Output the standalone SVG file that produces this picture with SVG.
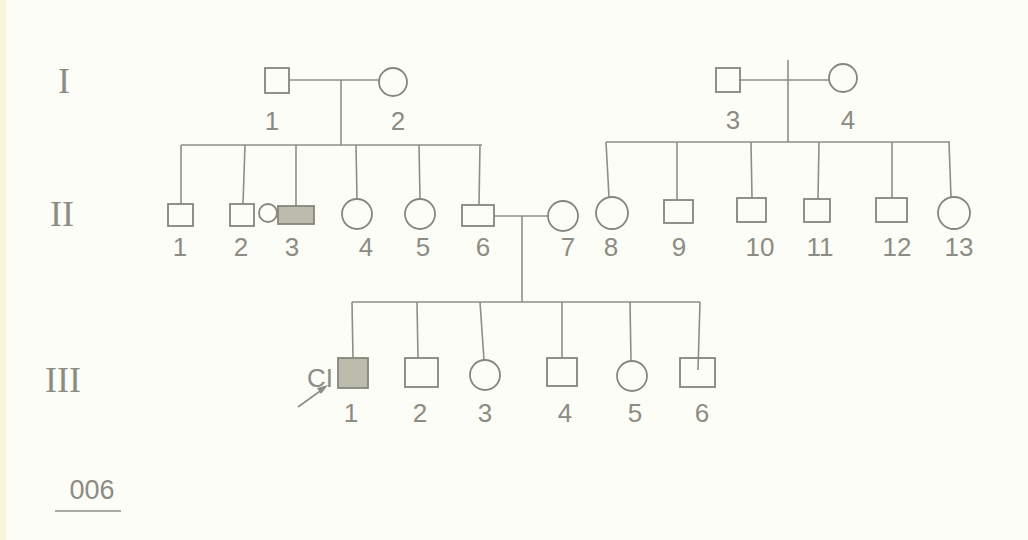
<svg xmlns="http://www.w3.org/2000/svg" width="1028" height="540" viewBox="0 0 1028 540">
<style>
.ln{stroke:#8e8e86;stroke-width:1.6;fill:none}
.sym{stroke:#86867e;stroke-width:1.8;fill:none}
.aff{stroke:#86867e;stroke-width:1.8;fill:#bcbcad}
.num{font-family:"Liberation Sans",Arial,sans-serif;font-size:26px;fill:#8c8c84;text-anchor:middle}
.gen{font-family:"Liberation Serif","Times New Roman",serif;font-size:36px;fill:#8c8c84;text-anchor:middle}
</style>
<rect x="0" y="0" width="1028" height="540" fill="#fdfdf7"/>
<rect x="0" y="0" width="6" height="540" fill="#f6f6dc"/>
<g id="generation-labels">
<text class="gen" x="64" y="93">I</text>
<text class="gen" x="62" y="226">II</text>
<text class="gen" x="63" y="392">III</text>
</g>
<g id="connectors">
<line class="ln" x1="289" y1="80" x2="379" y2="80"/>
<line class="ln" x1="341" y1="80" x2="341" y2="145"/>
<line class="ln" x1="181" y1="145" x2="482" y2="145"/>
<line class="ln" x1="181" y1="145" x2="181" y2="204"/>
<line class="ln" x1="245" y1="145" x2="243" y2="204"/>
<line class="ln" x1="296" y1="145" x2="296" y2="206"/>
<line class="ln" x1="356" y1="145" x2="357" y2="199"/>
<line class="ln" x1="419" y1="145" x2="420" y2="199"/>
<line class="ln" x1="480" y1="145" x2="479" y2="205"/>
<line class="ln" x1="740" y1="80" x2="829" y2="80"/>
<line class="ln" x1="788" y1="60" x2="788" y2="142"/>
<line class="ln" x1="606" y1="142" x2="950" y2="142"/>
<line class="ln" x1="606" y1="142" x2="609" y2="197"/>
<line class="ln" x1="677" y1="142" x2="677" y2="200"/>
<line class="ln" x1="751" y1="142" x2="752" y2="198"/>
<line class="ln" x1="819" y1="142" x2="818" y2="199"/>
<line class="ln" x1="892" y1="142" x2="892" y2="198"/>
<line class="ln" x1="949" y1="142" x2="951" y2="197"/>
<line class="ln" x1="494" y1="216" x2="548" y2="216"/>
<line class="ln" x1="522" y1="216" x2="522" y2="302"/>
<line class="ln" x1="352" y1="302" x2="700" y2="302"/>
<line class="ln" x1="352" y1="302" x2="353" y2="358"/>
<line class="ln" x1="417" y1="302" x2="418" y2="358"/>
<line class="ln" x1="480" y1="302" x2="484" y2="360"/>
<line class="ln" x1="562" y1="302" x2="562" y2="358"/>
<line class="ln" x1="630" y1="302" x2="631" y2="361"/>
<line class="ln" x1="700" y1="302" x2="698" y2="370"/>
<line class="ln" x1="298" y1="407" x2="323" y2="389"/>
<path d="M 328 385 L 317 388 L 321 394 Z" fill="#8e8e86"/>
</g>
<g id="I-1"><rect class="sym" x="265" y="68" width="24" height="25"/><text class="num" x="272" y="130">1</text></g>
<g id="I-2"><circle class="sym" cx="393" cy="82" r="14"/><text class="num" x="398" y="130">2</text></g>
<g id="I-3"><rect class="sym" x="716" y="68" width="24" height="24"/><text class="num" x="733" y="129">3</text></g>
<g id="I-4"><circle class="sym" cx="843" cy="78" r="14"/><text class="num" x="848" y="129">4</text></g>
<g id="II-1"><rect class="sym" x="168" y="204" width="25" height="22"/><text class="num" x="180" y="256">1</text></g>
<g id="II-2"><rect class="sym" x="230" y="204" width="24" height="22"/><text class="num" x="241" y="256">2</text></g>
<g id="II-3"><circle class="sym" cx="268" cy="213" r="9"/><rect class="aff" x="278" y="206" width="36" height="18"/><text class="num" x="292" y="256">3</text></g>
<g id="II-4"><circle class="sym" cx="357" cy="214" r="15"/><text class="num" x="366" y="256">4</text></g>
<g id="II-5"><circle class="sym" cx="420" cy="214" r="15"/><text class="num" x="423" y="256">5</text></g>
<g id="II-6"><rect class="sym" x="462" y="205" width="32" height="21"/><text class="num" x="483" y="256">6</text></g>
<g id="II-7"><circle class="sym" cx="563" cy="216" r="15"/><text class="num" x="568" y="256">7</text></g>
<g id="II-8"><circle class="sym" cx="612" cy="213" r="16"/><text class="num" x="611" y="256">8</text></g>
<g id="II-9"><rect class="sym" x="664" y="200" width="29" height="23"/><text class="num" x="679" y="256">9</text></g>
<g id="II-10"><rect class="sym" x="737" y="198" width="29" height="24"/><text class="num" x="760" y="256">10</text></g>
<g id="II-11"><rect class="sym" x="804" y="199" width="26" height="23"/><text class="num" x="820" y="256">11</text></g>
<g id="II-12"><rect class="sym" x="876" y="198" width="31" height="24"/><text class="num" x="897" y="256">12</text></g>
<g id="II-13"><circle class="sym" cx="954" cy="213" r="16"/><text class="num" x="959" y="256">13</text></g>
<g id="III-1"><text class="num" x="320" y="387">CI</text><rect class="aff" x="338" y="358" width="30" height="30"/><text class="num" x="351" y="422">1</text></g>
<g id="III-2"><rect class="sym" x="405" y="358" width="33" height="29"/><text class="num" x="420" y="422">2</text></g>
<g id="III-3"><circle class="sym" cx="485" cy="375" r="15"/><text class="num" x="485" y="422">3</text></g>
<g id="III-4"><rect class="sym" x="547" y="358" width="30" height="28"/><text class="num" x="565" y="422">4</text></g>
<g id="III-5"><circle class="sym" cx="632" cy="376" r="15"/><text class="num" x="635" y="422">5</text></g>
<g id="III-6"><rect class="sym" x="680" y="358" width="35" height="29"/><text class="num" x="702" y="422">6</text></g>
<g id="label-006"><text x="92" y="499" font-family="Liberation Sans, Arial, sans-serif" font-size="27" fill="#8c8c84" text-anchor="middle">006</text><line class="ln" x1="55" y1="511" x2="121" y2="511"/></g>
</svg>
